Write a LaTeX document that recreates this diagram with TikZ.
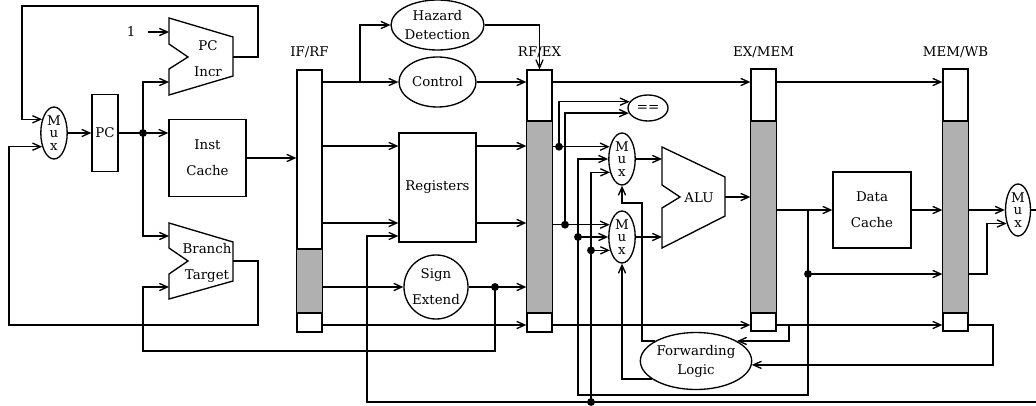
\documentclass[tikz,border=0pt]{standalone}
\usepackage{fontspec}
\setmainfont{DejaVu Serif}
\usetikzlibrary{
    shapes.geometric,
    arrows.meta,
    positioning,
    calc
}
\definecolor{regshade}{RGB}{176, 176, 176}

\begin{document}
\begin{tikzpicture}[
        x=0.025cm, y=-0.025cm,
        line width=0.95pt,
        font=\fontsize{9.5}{11.5}\selectfont,
        box/.style={rectangle, draw, inner sep=0pt, align=center},
        oval/.style={ellipse, draw, inner sep=0pt, align=center},
        mux/.style={ellipse, draw, inner sep=0pt, minimum width=0.66cm, minimum height=1.3cm, align=center, font=\fontsize{9.5}{9}\selectfont},
        pipereg/.style={rectangle, draw, inner sep=0pt, minimum width=0.625cm, minimum height=6.55cm},
        arrow/.style={-{Straight Barb[length=2mm, width=1.8mm]}}
    ]
        \useasboundingbox (0,0) rectangle (1036,406);

        % Fetch
        \node (one) at (131,32) {1};
        \node[mux] (mux_pc) at (54,133) {M\\u\\x};
        \node[box, minimum width=0.65cm, minimum height=1.925cm] (pc) at (105,133) {PC};
        \node[box, minimum width=1.925cm, minimum height=1.925cm] (icache) at (207.5,158) {Inst\\[7pt]Cache};
        \draw (169,18) -- (233,37) -- (233,76) -- (169,95) -- (169,69) -- (188,57) -- (169,44) -- cycle;
        \node[align=center] (incr) at (208,59) {PC\\[7pt]Incr};
        \draw (169,223) -- (233,242) -- (233,281) -- (169,299) -- (169,274) -- (188,261) -- (169,248) -- cycle;
        \node[align=center] (btarget) at (207,263) {Branch\\[7pt]Target};
        \coordinate (incr_a) at (169,32);
        \coordinate (incr_b) at (169,82);
        \coordinate (incr_out) at (233,57);
        \coordinate (bt_a) at (169,236);
        \coordinate (bt_b) at (169,287);
        \coordinate (bt_out) at (233,261);
        \coordinate (pc_split) at (143,133);

        % Pipeline registers
        \node[pipereg] (ifrf) at (309.5,201) {};
        \node[pipereg] (rfex) at (539.5,201) {};
        \node[pipereg] (exmem) at (763.5,200) {};
        \node[pipereg] (memwb) at (955.5,200) {};
        \filldraw[fill=regshade] (ifrf.west |- 0,249) rectangle (ifrf.east |- 0,313);
        \filldraw[fill=regshade] (rfex.west |- 0,121) rectangle (rfex.east |- 0,313);
        \filldraw[fill=regshade] (exmem.west |- 0,121) rectangle (exmem.east |- 0,313);
        \filldraw[fill=regshade] (memwb.west |- 0,121) rectangle (memwb.east |- 0,313);
        \node (ifrf_lbl) at (309.5,52) {IF/RF};
        \node (rfex_lbl) at (539.5,52) {RF/EX};
        \node (exmem_lbl) at (763.5,52) {EX/MEM};
        \node (memwb_lbl) at (955.5,52) {MEM/WB};

        % Decode
        \node[oval, minimum width=1.925cm, minimum height=1.25cm] (hazard) at (437.5,25) {Hazard\\[2pt]Detection};
        \node[oval, minimum width=1.925cm, minimum height=1.25cm] (control) at (437.5,82) {Control};
        \node[box, minimum width=1.925cm, minimum height=2.725cm] (regs) at (437.5,187.5) {Registers};
        \node[circle, draw, inner sep=0pt, minimum size=1.6cm, align=center] (signext) at (436,287) {Sign\\[7pt]Extend};
        \coordinate (se_split) at (495,287);

        % Execute
        \node[oval, minimum width=1cm, minimum height=0.65cm] (eq) at (648,108) {==};
        \node[mux] (muxa) at (622,159) {M\\u\\x};
        \node[mux] (muxb) at (622,237) {M\\u\\x};
        \draw (662,147) -- (725,177) -- (725,216) -- (662,248) -- (662,208) -- (680,197) -- (662,185) -- cycle;
        \node (alu) at (699,198) {ALU};
        \coordinate (alu_a) at (662,159);
        \coordinate (alu_b) at (662,237);
        \coordinate (alu_out) at (725,197);
        \node[oval, minimum width=2.4cm, minimum height=1.425cm] (fwd) at (696,361) {Forwarding\\[2pt]Logic};

        % Memory and write back
        \node[box, minimum width=1.95cm, minimum height=1.9cm] (dcache) at (872,210) {Data\\[7pt]Cache};
        \node[mux, minimum width=0.625cm] (muxw) at (1018,210) {M\\u\\x};

        % Fetch arrows
        \draw[arrow, shorten <=5pt] (one) -- (incr_a);
        \draw[arrow] (mux_pc) -- (pc);
        \draw (pc) -- (pc_split);
        \draw[arrow] (pc_split) -- (pc_split -| icache.west);
        \draw[arrow] (pc_split) |- (incr_b);
        \draw[arrow] (pc_split) |- (bt_a);
        \draw[arrow] (incr_out) -| (258,6) -- (22,6) |- (mux_pc.131);
        \draw[arrow] (bt_out) -| (258,325) -- (9,325) |- (mux_pc.229);
        \draw[arrow] (icache) -- (icache -| ifrf.west);
        \draw[arrow] (se_split) -- (495,351) -- (143,351) |- (bt_b);

        % Decode arrows
        \draw[arrow] (ifrf.east |- control) -- (control);
        \draw[arrow] (360,82) |- (hazard);
        \draw[arrow] (ifrf.east |- 0,146) -- (regs.west |- 0,146);
        \draw[arrow] (ifrf.east |- 0,223) -- (regs.west |- 0,223);
        \draw[arrow] (ifrf.east |- signext) -- (signext);
        \draw[arrow] (ifrf.east |- 0,325) -- (rfex.west |- 0,325);
        \draw[arrow] (hazard) -| (rfex.north);
        \draw[arrow] (control) -- (control -| rfex.west);
        \draw[arrow] (regs.east |- 0,146) -- (rfex.west |- 0,146);
        \draw[arrow] (regs.east |- 0,223) -- (rfex.west |- 0,223);
        \draw[arrow] (signext) -- (signext -| rfex.west);

        % Execute arrows
        \coordinate (ra) at (559,0 |- muxa.135);
        \coordinate (rb) at (565,0 |- muxb.135);
        \coordinate (fb) at (578,0 |- muxb.west);
        \coordinate (wb) at (591,0 |- muxb.228);
        \coordinate (wb_split) at (591,402);
        \draw[arrow] (rfex.east |- muxa.135) -- (muxa.135);
        \draw[arrow] (rfex.east |- muxb.135) -- (muxb.135);
        \draw[arrow] (ra) |- (eq.161);
        \draw[arrow] (rb) |- (eq.195);
        \draw[arrow] (fb) -- (muxb.west);
        \draw[arrow] (wb_split) |- (muxa.228);
        \draw[arrow] (wb) -- (muxb.228);
        \draw[arrow] (muxa) -- (alu_a);
        \draw[arrow] (muxb) -- (alu_b);
        \draw[arrow] (alu_out) -- (alu_out -| exmem.west);
        \draw[arrow] (rfex.east |- 0,82) -- (exmem.west |- 0,82);
        \draw[arrow] (rfex.east |- 0,325) -- (exmem.west |- 0,325);
        \draw[arrow] (fwd.154) -| (642,203) -| (muxa.south);
        \draw[arrow] (fwd.202) -| (muxb.south);

        % Memory arrows
        \coordinate (ex_split) at (808,0 |- dcache);
        \coordinate (dc_split) at (808,274);
        \draw[arrow] (exmem.east |- dcache) -- (dcache);
        \draw[arrow] (ex_split) -- (808,395) -- (578,395) |- (muxa.west);
        \draw[arrow] (exmem.east |- 0,82) -- (memwb.west |- 0,82);
        \draw[arrow] (dcache) -- (dcache -| memwb.west);
        \draw[arrow] (dc_split) -- (dc_split -| memwb.west);
        \draw[arrow] (exmem.east |- 0,325) -- (memwb.west |- 0,325);
        \draw[arrow] (789,325) |- (fwd.26);
        \draw[arrow] (memwb.east |- 0,325) -- (993,325) |- (fwd.-4);
        \draw[arrow] (memwb.east |- muxw) -- (muxw);
        \draw[arrow] (memwb.east |- 0,274) -- (987,274) |- (muxw.230);
        \draw[arrow] (muxw) -- (1042,210) -- (1042,402) -- (367,402) |- (regs.west |- 0,236);

        % Junctions
        \foreach \j in {pc_split, se_split, ra, rb, fb, wb, wb_split, dc_split}
            \fill (\j) circle (2.8pt);
    \end{tikzpicture}
\end{document}
